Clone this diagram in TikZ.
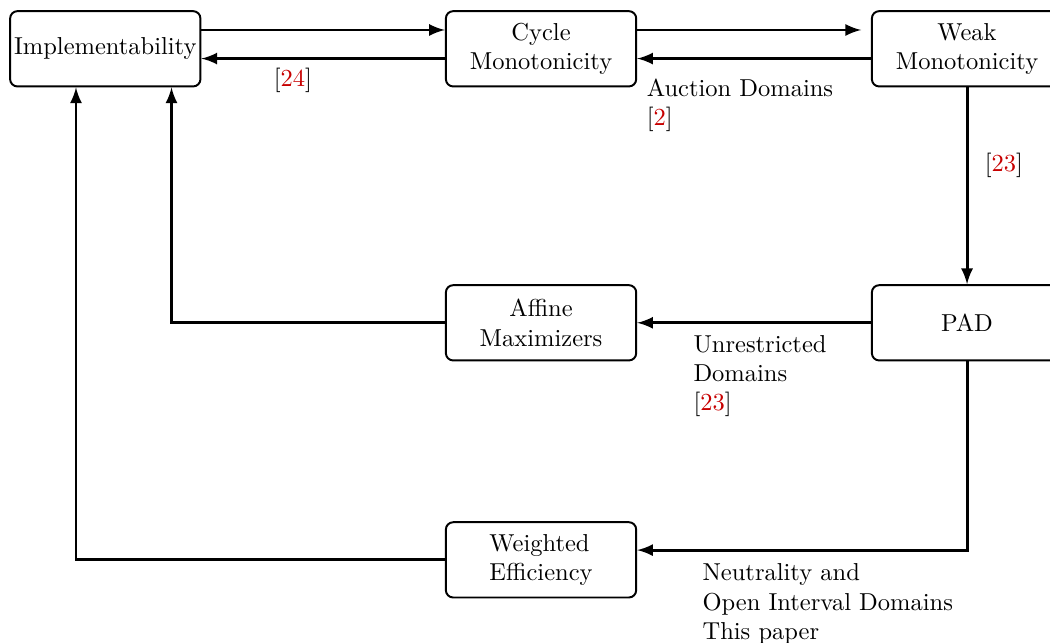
\documentclass[tikz,border=0pt]{standalone}
\definecolor{citered}{rgb}{0.78,0,0}
\newcommand{\refcite}[1]{[\textcolor{citered}{#1}]}

\begin{document}
\begin{tikzpicture}[
    box/.style={rectangle, draw, thick, rounded corners=3pt, minimum width=2.73cm, minimum height=1.08cm, align=center, inner sep=1pt},
    link/.style={very thick, -latex},
    note/.style={align=left, anchor=north west, inner sep=0pt}
  ]
    \useasboundingbox (0,0) rectangle (15.06,-9.21);

    % Properties
    \node[box] (impl) at (1.51,-0.70) {Implementability};
    \node[box] (cycle) at (7.76,-0.70) {Cycle\\ Monotonicity};
    \node[box] (weak) at (13.87,-0.70) {Weak\\ Monotonicity};
    \node[box] (pad) at (13.87,-4.63) {PAD};
    \node[box] (affine) at (7.76,-4.63) {Affine\\ Maximizers};
    \node[box, align=left] (weighted) at (7.76,-8.03) {Weighted\\ Efficiency};

    % Top row
    \draw[link] ([yshift=0.27cm]impl.east) -- ([yshift=0.27cm]cycle.west);
    \draw[link] ([yshift=-0.14cm]cycle.west) -- ([yshift=-0.14cm]impl.east);
    \draw[link, shorten >=0.14cm] ([yshift=0.27cm]cycle.east) -- ([yshift=0.27cm]weak.west);
    \draw[link] ([yshift=-0.14cm]weak.west) -- ([yshift=-0.14cm]cycle.east);
    \node (ref24) at (4.20,-1.15) {\refcite{24}};
    \node[note] (auction) at (9.27,-1.12) {Auction Domains\\ \refcite{2}};

    % Right column
    \draw[link] (weak) -- (pad);
    \node (ref23) at (14.40,-2.37) {\refcite{23}};

    % Middle row
    \draw[link] (pad) -- (affine);
    \draw[link] (affine.west) -| ([xshift=0.95cm]impl.south);
    \node[note] (unrestricted) at (9.94,-4.80) {Unrestricted\\ Domains\\ \refcite{23}};

    % Bottom row
    \draw[link] (pad.south) |- ([yshift=0.14cm]weighted.east);
    \draw[link] (weighted.west) -| ([xshift=-0.42cm]impl.south);
    \node[note] (neutrality) at (10.07,-8.08) {Neutrality and\\ Open Interval Domains\\ This paper};
  \end{tikzpicture}
\end{document}
